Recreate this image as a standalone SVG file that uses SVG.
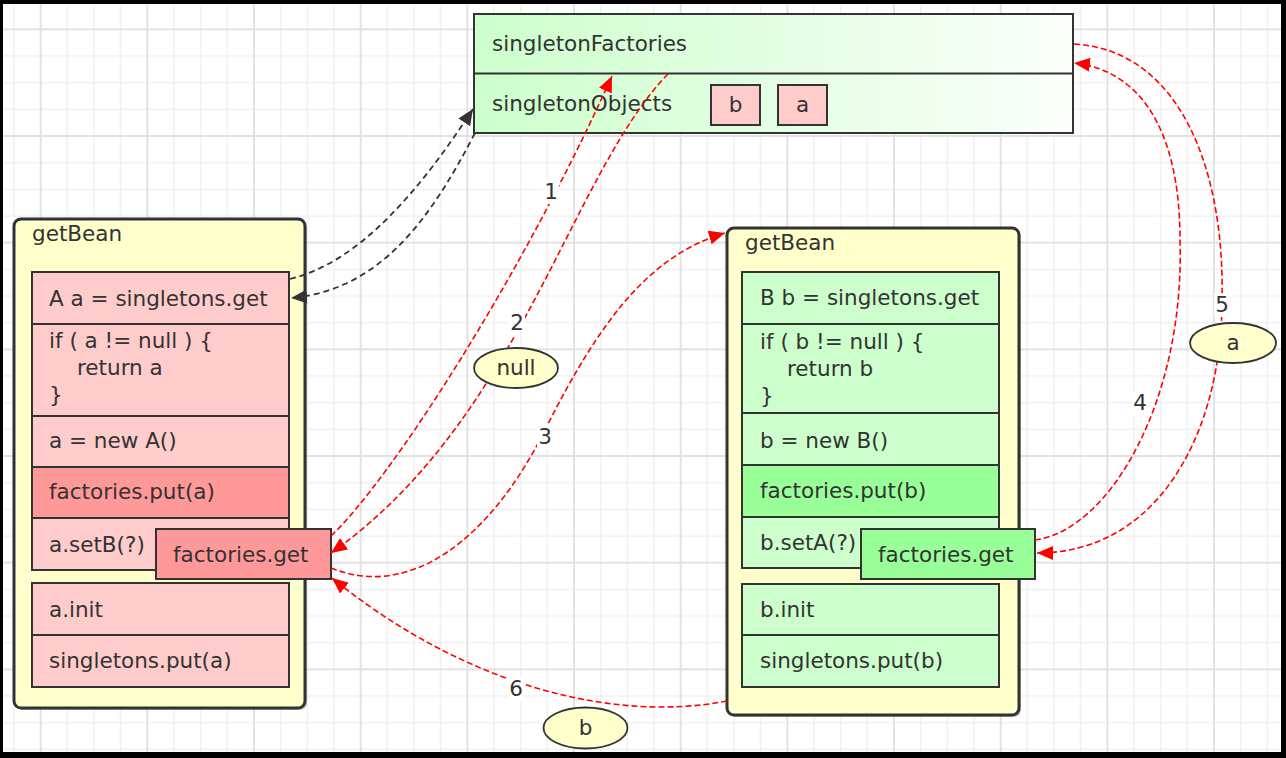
<svg xmlns="http://www.w3.org/2000/svg" width="1286" height="758" viewBox="0 0 1286 758">
<style>
text{font-family:"DejaVu Sans","Liberation Sans",sans-serif;font-size:21.5px;fill:#333}
.box{stroke:#333;stroke-width:2}
.cont{fill:#ffffcc;stroke:#333;stroke-width:3}
.shadow{fill:#000;opacity:.25}
.pr{fill:#ffcccc}
.pd{fill:#ff9999}
.gr{fill:#ccffcc}
.gd{fill:#99ff99}
.red{fill:none;stroke:#ff0000;stroke-width:1.6;stroke-dasharray:6 3}
.blk{fill:none;stroke:#333;stroke-width:1.8;stroke-dasharray:6 4}
.ell{fill:#ffffcc;stroke:#333;stroke-width:1.8}
.lbg{fill:#fff}
.mid{text-anchor:middle}
</style>
<defs>
<pattern id="grid" patternUnits="userSpaceOnUse" x="-67" y="-78.33" width="106.667" height="106.667">
<rect x="27" y="0" width="1.4" height="106.667" fill="#efefef"/>
<rect x="53.67" y="0" width="1.4" height="106.667" fill="#efefef"/>
<rect x="80.33" y="0" width="1.4" height="106.667" fill="#efefef"/>
<rect x="0" y="27" width="106.667" height="1.4" fill="#efefef"/>
<rect x="0" y="53.67" width="106.667" height="1.4" fill="#efefef"/>
<rect x="0" y="80.33" width="106.667" height="1.4" fill="#efefef"/>
<rect x="0" y="0" width="2" height="106.667" fill="#e2e2e2"/>
<rect x="0" y="0" width="106.667" height="2" fill="#e2e2e2"/>
</pattern>
<linearGradient id="topg" x1="0" y1="0" x2="1" y2="0">
<stop offset="0" stop-color="#ccffcc"/>
<stop offset="1" stop-color="#fbfffb"/>
</linearGradient>
<marker id="ar" markerUnits="userSpaceOnUse" markerWidth="17" markerHeight="14" refX="16" refY="7" orient="auto">
<path d="M0,0 L16,7 L0,14 z" fill="#ff0000"/>
</marker>
<marker id="ab" markerUnits="userSpaceOnUse" markerWidth="17" markerHeight="14" refX="16" refY="7" orient="auto">
<path d="M0,0 L16,7 L0,14 z" fill="#333"/>
</marker>
</defs>

<rect x="0" y="0" width="1286" height="758" fill="#000"/>
<rect x="3" y="4" width="1278" height="748" fill="#fff"/>
<rect x="3" y="4" width="1278" height="748" fill="url(#grid)"/>

<g id="getBeanA">
<rect class="shadow" x="16" y="221" width="291" height="489" rx="7"/>
<rect class="cont" x="14" y="219" width="291" height="489" rx="7"/>
<text x="32" y="241">getBean</text>
<rect class="box pr" x="32" y="272" width="257" height="52"/>
<text x="49" y="305.5">A a = singletons.get</text>
<rect class="box pr" x="32" y="324" width="257" height="92"/>
<text x="49" y="348">if ( a != null ) {</text>
<text x="77" y="375">return a</text>
<text x="49" y="402">}</text>
<rect class="box pr" x="32" y="416" width="257" height="51"/>
<text x="49" y="448">a = new A()</text>
<rect class="box pd" x="32" y="467" width="257" height="51"/>
<text x="49" y="499">factories.put(a)</text>
<rect class="box pr" x="32" y="518" width="257" height="52"/>
<text x="49" y="551.5">a.setB(?)</text>
<rect class="box pr" x="32" y="583" width="257" height="52"/>
<text x="49" y="617">a.init</text>
<rect class="box pr" x="32" y="635" width="257" height="52"/>
<text x="49" y="668">singletons.put(a)</text>
</g>
<g id="factoriesGetA">
<rect class="box pd" x="156" y="529" width="175" height="50"/>
<text x="173" y="562">factories.get</text>
</g>

<g id="getBeanB">
<rect class="shadow" x="729" y="230" width="292" height="487" rx="7"/>
<rect class="cont" x="727" y="228" width="292" height="487" rx="7"/>
<text x="745" y="250">getBean</text>
<rect class="box gr" x="742" y="272" width="257" height="52"/>
<text x="760" y="305">B b = singletons.get</text>
<rect class="box gr" x="742" y="324" width="257" height="89"/>
<text x="760" y="349">if ( b != null ) {</text>
<text x="787" y="376">return b</text>
<text x="760" y="403">}</text>
<rect class="box gr" x="742" y="413" width="257" height="52"/>
<text x="760" y="448">b = new B()</text>
<rect class="box gd" x="742" y="465" width="257" height="52"/>
<text x="760" y="498">factories.put(b)</text>
<rect class="box gr" x="742" y="517" width="257" height="51"/>
<text x="760" y="550">b.setA(?)</text>
<rect class="box gr" x="742" y="584" width="257" height="51"/>
<text x="760" y="617">b.init</text>
<rect class="box gr" x="742" y="635" width="257" height="52"/>
<text x="760" y="668">singletons.put(b)</text>
</g>
<g id="factoriesGetB">
<rect class="box gd" x="861" y="529" width="174" height="50"/>
<text x="878" y="562">factories.get</text>
</g>

<g id="caches">
<rect class="box" x="474" y="14" width="599" height="119" fill="url(#topg)"/>
<line class="box" x1="474" y1="73.5" x2="1073" y2="73.5"/>
<text x="492" y="51">singletonFactories</text>
<text x="492" y="111">singletonObjects</text>
<rect class="box pr" x="711" y="85" width="49" height="40"/>
<text class="mid" x="735.5" y="112">b</text>
<rect class="box pr" x="778" y="85" width="49" height="40"/>
<text class="mid" x="802.5" y="112">a</text>
</g>

<g id="connectors">
<path class="blk" d="M290,279 C360,262 420,190 473,109" marker-end="url(#ab)"/>
<path class="blk" d="M475,133 C430,220 380,290 291,298" marker-end="url(#ab)"/>
<path class="red" d="M331,536 C390,480 520,280 612,76" marker-end="url(#ar)"/>
<path class="red" d="M668,74 C570,175 520,420 331,553" marker-end="url(#ar)"/>
<path class="red" d="M331,568 C410,600 490,540 545,430 S650,255 725,233" marker-end="url(#ar)"/>
<path class="red" d="M1035,540 C1110,530 1185,400 1180,240 C1180,130 1140,70 1074,63" marker-end="url(#ar)"/>
<path class="red" d="M1074,44 C1180,50 1225,170 1222,300 C1222,430 1160,553 1037,553" marker-end="url(#ar)"/>
<path class="red" d="M727,701 C620,722 470,690 332,578" marker-end="url(#ar)"/>
<rect class="lbg" x="543" y="180" width="16" height="24"/>
<text class="mid" x="551" y="199">1</text>
<rect class="lbg" x="509" y="311" width="16" height="24"/>
<text class="mid" x="517" y="330">2</text>
<rect class="lbg" x="537" y="425" width="16" height="24"/>
<text class="mid" x="545" y="444">3</text>
<rect class="lbg" x="1132" y="391" width="16" height="24"/>
<text class="mid" x="1140" y="410">4</text>
<rect class="lbg" x="1214" y="293" width="16" height="24"/>
<text class="mid" x="1222" y="312">5</text>
<rect class="lbg" x="508" y="677" width="16" height="24"/>
<text class="mid" x="516" y="696">6</text>
</g>

<g id="nullValue">
<ellipse class="ell" cx="516" cy="368" rx="42" ry="20"/>
<text class="mid" x="516" y="375">null</text>
</g>
<g id="aValue">
<ellipse class="ell" cx="1233" cy="343" rx="43" ry="20"/>
<text class="mid" x="1233" y="350">a</text>
</g>
<g id="bValue">
<ellipse class="ell" cx="585.5" cy="728" rx="42" ry="20.5"/>
<text class="mid" x="585.5" y="735">b</text>
</g>
</svg>
